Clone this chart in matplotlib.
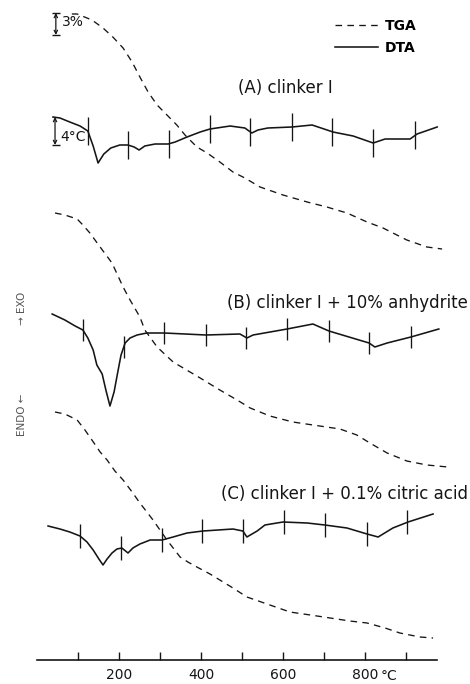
import numpy as np
import matplotlib
matplotlib.use("Agg")
import matplotlib.pyplot as plt

# x: temperature (deg C); y: trace height above the temperature axis (chart units)

# (A) clinker I
dta_a_t = [39, 56, 80, 105, 124, 137, 149, 163, 180, 202, 222, 237, 249, 263, 288, 320, 337,
           366, 398, 422, 471, 507, 524, 539, 563, 622, 671, 722, 771, 820, 849, 910, 927, 976]
dta_a_h = [543, 542, 538, 534, 529, 514, 497, 506, 512, 515, 515, 513, 510, 514, 516, 516, 518,
           523, 528, 531, 534, 532, 527, 530, 532, 533, 535, 528, 524, 517, 521, 521, 526, 533]
tga_a_t = [85, 98, 134, 161, 185, 210, 232, 251, 271, 293, 317, 341, 361, 390, 415, 446, 478,
           507, 544, 600, 659, 707, 756, 805, 844, 902, 951, 988]
tga_a_h = [646, 646, 640, 632, 623, 612, 598, 583, 568, 555, 545, 535, 525, 513, 507, 498, 488,
           482, 473, 465, 458, 453, 447, 438, 432, 420, 413, 411]
marks_a = [124, 222, 322, 422, 520, 622, 720, 820, 922]

# (B) clinker I + 10% anhydrite
dta_b_t = [37, 68, 93, 112, 124, 137, 146, 159, 168, 178, 188, 198, 205, 215, 227, 244, 268,
           310, 412, 495, 512, 527, 610, 673, 712, 810, 824, 854, 912, 980]
dta_b_h = [346, 340, 334, 330, 322, 310, 295, 286, 270, 254, 268, 290, 305, 317, 322, 325, 327,
           327, 325, 326, 322, 325, 331, 336, 329, 317, 313, 317, 323, 331]
tga_b_t = [44, 68, 98, 112, 129, 154, 183, 210, 227, 251, 263, 293, 332, 398, 446, 488, 520,
           568, 624, 673, 739, 780, 812, 854, 902, 951, 1002]
tga_b_h = [447, 445, 441, 435, 427, 413, 397, 373, 360, 343, 330, 313, 298, 282, 270, 260, 252,
           244, 238, 235, 231, 225, 217, 207, 199, 195, 193]
marks_b = [112, 212, 310, 412, 510, 610, 712, 810, 912]

# (C) clinker I + 0.1% citric acid
dta_c_t = [27, 56, 80, 105, 122, 137, 151, 161, 171, 183, 195, 207, 222, 234, 251, 276, 305,
           332, 366, 405, 478, 502, 512, 537, 556, 600, 659, 702, 756, 805, 832, 868, 905, 966]
dta_c_h = [134, 131, 128, 124, 118, 110, 101, 95, 101, 107, 111, 112, 107, 112, 116, 120, 120,
           123, 127, 129, 131, 129, 123, 129, 135, 138, 137, 135, 132, 126, 123, 132, 138, 146]
tga_c_t = [44, 68, 98, 117, 134, 154, 171, 190, 210, 232, 251, 268, 283, 300, 317, 334, 349,
           368, 390, 422, 446, 478, 512, 561, 617, 683, 763, 805, 849, 885, 934, 966]
tga_c_h = [248, 246, 240, 230, 220, 208, 200, 189, 180, 168, 157, 148, 140, 130, 120, 111, 103,
           98, 93, 86, 80, 72, 63, 56, 48, 44, 39, 37, 32, 27, 23, 22]
marks_c = [105, 205, 305, 402, 502, 602, 702, 805, 902]

tick_temps = [100, 200, 300, 400, 500, 600, 700, 800, 900]
tick_labels = ["", "200", "", "400", "", "600", "", "800", ""]

INK = "#151515"

fig = plt.figure(figsize=(4.7, 6.84), dpi=100)
ax = fig.add_axes([0, 0, 1, 1])
ax.set_xlim(-90.2, 1056.1)
ax.set_ylim(-24, 660)


def draw_pair(t_dta, h_dta, t_tga, h_tga, marks, half, labels=(None, None)):
    ax.plot(t_tga, h_tga, color=INK, lw=0.95, linestyle=(0, (5, 4)), label=labels[0])
    ax.plot(t_dta, h_dta, color=INK, lw=1.15, solid_joinstyle="round", label=labels[1])
    # temperature marks drawn across the DTA trace
    mh = np.interp(marks, t_dta, h_dta)
    ax.vlines(marks, mh - half, mh + half, color=INK, lw=0.95)


draw_pair(dta_a_t, dta_a_h, tga_a_t, tga_a_h, marks_a, 14, labels=("TGA", "DTA"))
draw_pair(dta_b_t, dta_b_h, tga_b_t, tga_b_h, marks_b, 11)
draw_pair(dta_c_t, dta_c_h, tga_c_t, tga_c_h, marks_c, 12)

# curve titles
ax.text(490, 567, "(A) clinker I", fontsize=12, color=INK, ha="left", va="baseline")
ax.text(1051, 352, "(B) clinker I + 10% anhydrite", fontsize=12, color=INK,
        ha="right", va="baseline")
ax.text(1051, 161, "(C) clinker I + 0.1% citric acid", fontsize=12, color=INK,
        ha="right", va="baseline")

# scale bars
ax.annotate("", xy=(46, 647), xytext=(46, 625),
            arrowprops=dict(arrowstyle="<->", color=INK, lw=0.9, shrinkA=0, shrinkB=0,
                            mutation_scale=6))
ax.hlines([647, 625], 37, 56, color=INK, lw=1.0)
ax.text(61, 638, "3%", fontsize=10, color=INK, ha="left", va="center")
ax.annotate("", xy=(44, 543), xytext=(44, 515),
            arrowprops=dict(arrowstyle="<->", color=INK, lw=0.9, shrinkA=0, shrinkB=0,
                            mutation_scale=6))
ax.hlines([515], 37, 56, color=INK, lw=1.0)
ax.text(56, 523, "4°C", fontsize=10, color=INK, ha="left", va="center")

# exo / endo side notes
ax.text(-37, 352, "\u2192 EXO", fontsize=7.5, color="#555555", rotation=90,
        ha="center", va="center")
ax.text(-37, 245, "ENDO \u2190", fontsize=7.5, color="#555555", rotation=90,
        ha="center", va="center")

# legend
ax.legend(loc="upper left", bbox_to_anchor=(335 / 470, 1 - 19 / 684),
          bbox_transform=fig.transFigure, frameon=False, borderpad=0, borderaxespad=0,
          handlelength=3.1, handletextpad=0.5, labelspacing=0.55,
          prop={"size": 10, "weight": "bold"})

# temperature axis
for side in ["top", "left", "right"]:
    ax.spines[side].set_visible(False)
ax.spines["bottom"].set_position(("data", 0))
ax.spines["bottom"].set_bounds(0, 975)
ax.spines["bottom"].set_linewidth(1.2)
ax.spines["bottom"].set_color(INK)
ax.set_xticks(tick_temps)
ax.set_xticklabels(tick_labels)
ax.tick_params(axis="x", direction="in", length=6, width=1.0, pad=6, labelsize=10,
               colors=INK)
ax.set_yticks([])
ax.text(839, -20, "°C", fontsize=10, color=INK, ha="left", va="baseline")

fig.savefig("out.png", dpi=100)
